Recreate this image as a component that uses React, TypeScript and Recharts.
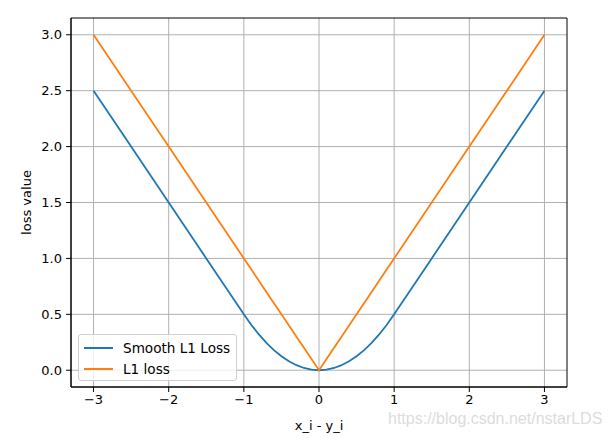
import React from 'react';
import { LineChart, Line, XAxis, YAxis, CartesianGrid, ReferenceArea } from 'recharts';

const xValues = [-3, -2.5, -2, -1.5, -1, -0.9, -0.8, -0.7, -0.6, -0.5, -0.4, -0.3, -0.2, -0.1, 0, 0.1, 0.2, 0.3, 0.4, 0.5, 0.6, 0.7, 0.8, 0.9, 1, 1.5, 2, 2.5, 3];
const smoothL1 = [2.5, 2.0, 1.5, 1.0, 0.5, 0.405, 0.32, 0.245, 0.18, 0.125, 0.08, 0.045, 0.02, 0.005, 0, 0.005, 0.02, 0.045, 0.08, 0.125, 0.18, 0.245, 0.32, 0.405, 0.5, 1.0, 1.5, 2.0, 2.5];
const l1Loss = [3, 2.5, 2, 1.5, 1, 0.9, 0.8, 0.7, 0.6, 0.5, 0.4, 0.3, 0.2, 0.1, 0, 0.1, 0.2, 0.3, 0.4, 0.5, 0.6, 0.7, 0.8, 0.9, 1, 1.5, 2, 2.5, 3];
const xTicks = [-3, -2, -1, 0, 1, 2, 3];
const yTicks = [0, 0.5, 1, 1.5, 2, 2.5, 3];

const data = xValues.map((x, i) => ({ x, smooth: smoothL1[i], l1: l1Loss[i] }));

const FONT = '"DejaVu Sans", sans-serif';
const BLUE = '#1f77b4';
const ORANGE = '#ff7f0e';

const fmtX = (v: number) => (v < 0 ? '\u2212' + Math.abs(v) : String(v));
const fmtY = (v: number) => v.toFixed(1);

const legendItems = [
  { c: BLUE, t: 'Smooth L1 Loss' },
  { c: ORANGE, t: 'L1 loss' },
];

const LegendBox = () => (
  <div
    style={{
      position: 'absolute',
      left: 78,
      top: 334,
      width: 159,
      height: 47,
      border: '1px solid #d0d0d0',
      borderRadius: 3,
      background: 'rgba(255,255,255,0.8)',
      fontFamily: FONT,
      fontSize: 13.6,
      color: '#000',
      boxSizing: 'border-box',
      paddingTop: 2,
    }}
  >
    {legendItems.map((it) => (
      <div key={it.t} style={{ display: 'flex', alignItems: 'center', height: 21 }}>
        <div style={{ width: 29, height: 2, background: it.c, marginLeft: 5, marginRight: 10 }} />
        <span>{it.t}</span>
      </div>
    ))}
  </div>
);

export default function App() {
  return (
    <div style={{ position: 'absolute', left: 0, top: 0, width: 612, height: 438, background: '#fff' }}>
      <LineChart width={612} height={438} data={data} margin={{ top: 18, right: 45, bottom: 0, left: 0 }}>
        <CartesianGrid stroke="#b0b0b0" strokeWidth={1} horizontalValues={yTicks} verticalValues={xTicks} />
        <XAxis
          dataKey="x"
          type="number"
          domain={[-3.3, 3.3]}
          ticks={xTicks}
          tickFormatter={fmtX}
          allowDataOverflow
          height={51}
          tickSize={5}
          tickMargin={3}
          axisLine={{ stroke: '#000' }}
          tickLine={{ stroke: '#000' }}
          tick={{ fill: '#000', fontSize: 13, fontFamily: FONT }}
          label={{ value: 'x_i - y_i', position: 'insideBottom', offset: 8, fill: '#000', fontSize: 13, fontFamily: FONT }}
        />
        <YAxis
          type="number"
          domain={[-0.15, 3.15]}
          ticks={yTicks}
          tickFormatter={fmtY}
          allowDataOverflow
          width={71}
          tickSize={5}
          tickMargin={4}
          axisLine={{ stroke: '#000' }}
          tickLine={{ stroke: '#000' }}
          tick={{ fill: '#000', fontSize: 13, fontFamily: FONT }}
          label={{ value: 'loss value', angle: -90, position: 'center', dx: -9, fill: '#000', fontSize: 13, fontFamily: FONT }}
        />
        <ReferenceArea x1={-3.3} x2={3.3} y1={-0.15} y2={3.15} fill="none" stroke="#000" strokeWidth={1} />
        <Line type="linear" dataKey="smooth" name="Smooth L1 Loss" stroke={BLUE} strokeWidth={1.8} dot={false} isAnimationActive={false} />
        <Line type="linear" dataKey="l1" name="L1 loss" stroke={ORANGE} strokeWidth={1.8} dot={false} isAnimationActive={false} />
      </LineChart>
      <LegendBox />
      <div
        style={{
          position: 'absolute',
          left: 388,
          top: 410,
          fontFamily: '"Liberation Sans", Arial, sans-serif',
          fontSize: 16,
          color: '#dcdcdc',
          whiteSpace: 'nowrap',
        }}
      >
        https://blog.csdn.net/nstarLDS
      </div>
    </div>
  );
}
